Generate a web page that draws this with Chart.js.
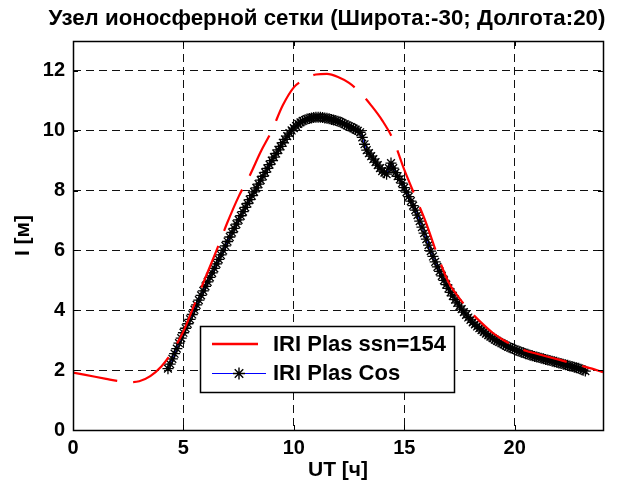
<!DOCTYPE html>
<html><head><meta charset="utf-8">
<script src="https://cdn.jsdelivr.net/npm/chart.js@4.4.0/dist/chart.umd.min.js"></script>
<style>html,body{margin:0;padding:0;background:#fff;}canvas{display:block;}</style>
</head><body>
<canvas id="c" width="622" height="488"></canvas>
<script>
// ---- text ----
const titleText = 'Узел ионосферной сетки (Широта:-30; Долгота:20)';
const xAxisLabel = 'UT [ч]';
const yAxisLabel = 'I [м]';
const redLabel = 'IRI Plas ssn=154';
const blueLabel = 'IRI Plas Cos';
// ---- ticks ----
const xTickValues = [0, 5, 10, 15, 20];
const yTickValues = [0, 2, 4, 6, 8, 10, 12];
const xRange = [0, 24];
const yRange = [0, 13];
// ---- series 1: IRI Plas ssn=154 ----
const redUT = [0,0.5,1,1.5,2,2.5,3,3.5,4,4.5,5,5.5,6,6.5,7,7.5,8,8.5,9,9.5,10,10.5,11,11.5,12,12.5,13,13.5,14,14.5,15,15.5,16,16.5,17,17.5,18,18.5,19,19.5,20,20.5,21,21.5,22,22.5,23,23.5,24];
const redI = [1.92,1.85,1.78,1.71,1.64,1.60,1.63,1.80,2.12,2.62,3.30,4.20,5.10,6.00,6.95,7.80,8.50,9.30,10.00,10.85,11.45,11.72,11.88,11.90,11.80,11.60,11.28,10.85,10.35,9.70,8.70,7.80,6.90,5.85,4.95,4.40,3.95,3.58,3.25,3.00,2.80,2.65,2.55,2.45,2.35,2.25,2.15,2.05,1.93];
// ---- series 2: IRI Plas Cos ----
const cosUT = [4.3,4.4,4.5,4.6,4.7,4.8,4.9,5.0,5.1,5.2,5.3,5.4,5.5,5.6,5.7,5.8,5.9,6.0,6.1,6.2,6.3,6.4,6.5,6.6,6.7,6.8,6.9,7.0,7.1,7.2,7.3,7.4,7.5,7.6,7.7,7.8,7.9,8.0,8.1,8.2,8.3,8.4,8.5,8.6,8.7,8.8,8.9,9.0,9.1,9.2,9.3,9.4,9.5,9.6,9.7,9.8,9.9,10.0,10.1,10.2,10.3,10.4,10.5,10.6,10.7,10.8,10.9,11.0,11.1,11.2,11.3,11.4,11.5,11.6,11.7,11.8,11.9,12.0,12.1,12.2,12.3,12.4,12.5,12.6,12.7,12.8,12.9,13.0,13.1,13.2,13.3,13.4,13.5,13.6,13.7,13.8,13.9,14.0,14.1,14.2,14.3,14.4,14.5,14.6,14.7,14.8,14.9,15.0,15.1,15.2,15.3,15.4,15.5,15.6,15.7,15.8,15.9,16.0,16.1,16.2,16.3,16.4,16.5,16.6,16.7,16.8,16.9,17.0,17.1,17.2,17.3,17.4,17.5,17.6,17.7,17.8,17.9,18.0,18.1,18.2,18.3,18.4,18.5,18.6,18.7,18.8,18.9,19.0,19.1,19.2,19.3,19.4,19.5,19.6,19.7,19.8,19.9,20.0,20.1,20.2,20.3,20.4,20.5,20.6,20.7,20.8,20.9,21.0,21.1,21.2,21.3,21.4,21.5,21.6,21.7,21.8,21.9,22.0,22.1,22.2,22.3,22.4,22.5,22.6,22.7,22.8,22.9,23.0,23.1,23.2];
const cosI = [2.05,2.20,2.38,2.55,2.72,2.90,3.07,3.25,3.40,3.55,3.70,3.86,4.02,4.18,4.34,4.50,4.65,4.80,4.95,5.10,5.25,5.40,5.55,5.70,5.85,6.00,6.15,6.30,6.45,6.60,6.74,6.88,7.02,7.16,7.30,7.44,7.57,7.70,7.83,7.96,8.09,8.22,8.35,8.48,8.61,8.74,8.87,9.00,9.12,9.24,9.36,9.48,9.60,9.71,9.82,9.92,10.01,10.09,10.16,10.23,10.28,10.33,10.36,10.39,10.41,10.43,10.44,10.45,10.45,10.45,10.44,10.43,10.42,10.40,10.38,10.36,10.34,10.32,10.29,10.26,10.22,10.18,10.15,10.12,10.08,10.04,10.00,9.95,9.78,9.55,9.35,9.25,9.15,9.05,8.95,8.85,8.75,8.65,8.60,8.55,8.75,8.92,8.75,8.60,8.48,8.38,8.25,8.10,7.95,7.80,7.65,7.50,7.35,7.18,6.98,6.78,6.58,6.38,6.18,5.98,5.80,5.62,5.45,5.30,5.15,5.00,4.86,4.73,4.60,4.48,4.36,4.25,4.14,4.04,3.94,3.85,3.76,3.68,3.60,3.53,3.46,3.40,3.34,3.28,3.22,3.17,3.12,3.07,3.02,2.98,2.94,2.90,2.86,2.82,2.78,2.75,2.72,2.69,2.66,2.63,2.60,2.58,2.55,2.53,2.50,2.48,2.46,2.44,2.42,2.40,2.38,2.36,2.34,2.32,2.30,2.28,2.26,2.24,2.22,2.20,2.18,2.16,2.14,2.12,2.10,2.08,2.06,2.03,2.00,1.97];

const FONT = '"Liberation Sans", Arial, Helvetica, sans-serif';
const toXY = (xs, ys) => xs.map((x, i) => ({x: x, y: ys[i]}));

const decor = {
  id: 'decor',
  afterDatasetsDraw(chart) {
    const ctx = chart.ctx, a = chart.chartArea;
    const xs = chart.scales.x, ys = chart.scales.y;
    ctx.save();
    ctx.strokeStyle = '#000'; ctx.lineWidth = 1; ctx.setLineDash([]);
    ctx.beginPath();
    xTickValues.forEach(v => {
      const p = Math.round(xs.getPixelForValue(v)) + 0.5;
      ctx.moveTo(p, a.bottom); ctx.lineTo(p, a.bottom - 5);
      ctx.moveTo(p, a.top); ctx.lineTo(p, a.top + 5);
    });
    yTickValues.forEach(v => {
      const p = Math.round(ys.getPixelForValue(v)) + 0.5;
      ctx.moveTo(a.left, p); ctx.lineTo(a.left + 5, p);
      ctx.moveTo(a.right, p); ctx.lineTo(a.right - 5, p);
    });
    ctx.stroke();
    ctx.lineWidth = 1.5;
    ctx.strokeRect(Math.round(a.left) + 0.5, Math.round(a.top) + 0.5, Math.round(a.right - a.left), Math.round(a.bottom - a.top));
    ctx.restore();
  },
  afterDraw(chart) {
    const ctx = chart.ctx;
    ctx.save();
    // title
    ctx.fillStyle = '#000';
    ctx.font = 'bold 22.3px ' + FONT;
    ctx.textAlign = 'center'; ctx.textBaseline = 'middle';
    ctx.fillText(titleText, 327, 19);
    // legend
    const bx = 200, by = 326, bw = 254, bh = 66;
    ctx.fillStyle = '#fff'; ctx.fillRect(bx, by, bw, bh);
    ctx.strokeStyle = '#000'; ctx.lineWidth = 1.5; ctx.strokeRect(bx + 0.5, by + 0.5, bw, bh);
    const ds = chart.data.datasets;
    // row 1
    ctx.strokeStyle = ds[0].borderColor; ctx.lineWidth = 2.5; ctx.setLineDash([]);
    ctx.beginPath(); ctx.moveTo(212, 344); ctx.lineTo(258, 344); ctx.stroke();
    // row 2
    ctx.strokeStyle = ds[1].borderColor; ctx.lineWidth = 1;
    ctx.beginPath(); ctx.moveTo(212, 373.5); ctx.lineTo(266, 373.5); ctx.stroke();
    ctx.strokeStyle = '#000'; ctx.lineWidth = 1.4;
    Chart.helpers.drawPoint(ctx, {pointStyle: 'star', radius: 6, borderWidth: 1.4, rotation: 0}, 239, 373.5);
    ctx.fillStyle = '#000';
    ctx.font = 'bold 22px ' + FONT;
    ctx.textAlign = 'left'; ctx.textBaseline = 'middle';
    ctx.fillText(ds[0].label, 273, 345);
    ctx.fillText(ds[1].label, 273, 374);
    ctx.restore();
  }
};

new Chart(document.getElementById('c'), {
  type: 'line',
  data: {
    datasets: [
      {
        label: redLabel,
        data: toXY(redUT, redI),
        borderColor: '#ff0000',
        borderWidth: 2.2,
        borderDash: [45, 16],
        pointRadius: 0,
        cubicInterpolationMode: 'monotone',
        fill: false
      },
      {
        label: blueLabel,
        data: toXY(cosUT, cosI),
        borderColor: '#0000ff',
        borderWidth: 1,
        pointStyle: 'star',
        pointRadius: 5.5,
        pointBorderColor: '#000',
        pointBackgroundColor: '#000',
        pointBorderWidth: 1.3,
        tension: 0,
        fill: false
      }
    ]
  },
  options: {
    responsive: false,
    animation: false,
    devicePixelRatio: 1,
    layout: {padding: {top: 41, right: 19, left: 0, bottom: 0}},
    plugins: {legend: {display: false}, title: {display: false}, tooltip: {enabled: false}},
    scales: {
      x: {
        type: 'linear', min: xRange[0], max: xRange[1],
        afterFit(s) { s.height = 58; },
        afterBuildTicks(s) { s.ticks = xTickValues.map(v => ({value: v})); },
        ticks: {color: '#000', font: {family: FONT, size: 20, weight: 'bold'}, padding: 6, maxRotation: 0},
        grid: {color: '#111', lineWidth: 1, drawTicks: false},
        border: {display: false, dash: [8, 5]},
        title: {display: true, text: xAxisLabel, color: '#000', font: {family: FONT, size: 21, weight: 'bold'}, padding: {top: 0, bottom: 5}}
      },
      y: {
        type: 'linear', min: yRange[0], max: yRange[1],
        afterFit(s) { s.width = 73; },
        afterBuildTicks(s) { s.ticks = yTickValues.map(v => ({value: v})); },
        ticks: {color: '#000', font: {family: FONT, size: 20, weight: 'bold'}, padding: 8},
        grid: {color: '#111', lineWidth: 1, drawTicks: false},
        border: {display: false, dash: [8, 5]},
        title: {display: true, text: yAxisLabel, color: '#000', font: {family: FONT, size: 21, weight: 'bold'}, padding: {top: 11, bottom: 0}}
      }
    }
  },
  plugins: [decor]
});
</script>
</body></html>
